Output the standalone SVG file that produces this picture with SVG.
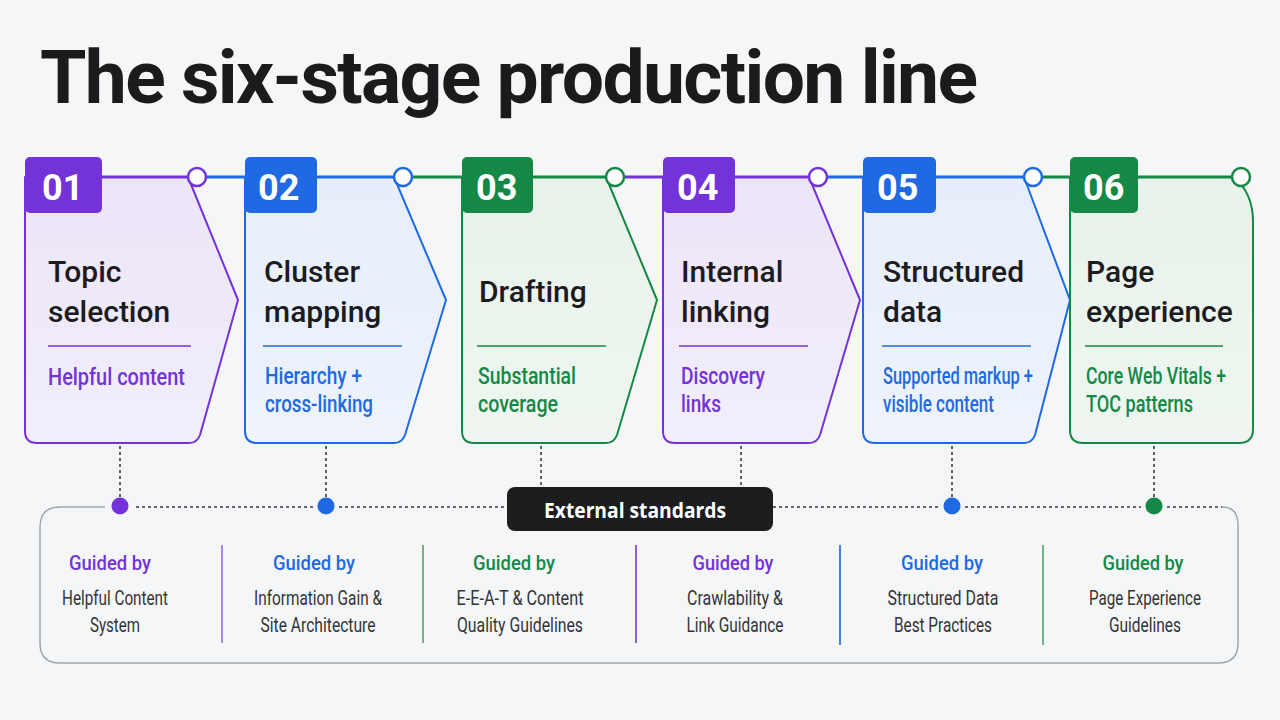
<svg xmlns="http://www.w3.org/2000/svg" width="1280" height="720" viewBox="0 0 1280 720">
  <style>
    .title { font-family: Roboto, "Liberation Sans", sans-serif; font-weight: 700; font-size: 75px; fill: #1b1b1d; }
    .num { font-family: Roboto, "Liberation Sans", sans-serif; font-weight: 700; font-size: 36px; fill: #ffffff; }
    .head { font-family: Roboto, "Liberation Sans", sans-serif; font-weight: 500; font-size: 30px; fill: #1c1c1e; }
    .sub { font-family: Roboto, "Liberation Sans", sans-serif; font-weight: 500; font-size: 23px; }
    .guide { font-family: Roboto, "Liberation Sans", sans-serif; font-weight: 500; font-size: 21px; text-anchor: middle; }
    .desc { font-family: Roboto, "Liberation Sans", sans-serif; font-weight: 400; font-size: 20px; fill: #333437; text-anchor: middle; }
    .purple { fill: #7433d8; }
    .blue { fill: #1f6ae2; }
    .green { fill: #168846; }
    .s-purple { stroke: #7433d8; }
    .s-blue { stroke: #1f6ae2; }
    .s-green { stroke: #168846; }
    .body { stroke-width: 2; stroke-linejoin: round; }
    .rule { stroke-width: 1.5; fill: none; }
    .line { stroke-width: 3; fill: none; }
    .ring { fill: #ffffff; stroke-width: 2.5; }
    .dots { stroke: #3a3b3e; stroke-width: 1.6; stroke-dasharray: 3 3; fill: none; }
    .panel { fill: none; stroke: #a2a6ab; stroke-width: 1.5; }
  </style>
  <defs>
    <linearGradient id="fillPurple" x1="0" y1="0" x2="0" y2="1">
      <stop offset="0" stop-color="#ece5f8"/>
      <stop offset="1" stop-color="#f2eefb"/>
    </linearGradient>
    <linearGradient id="fillBlue" x1="0" y1="0" x2="0" y2="1">
      <stop offset="0" stop-color="#e6eefb"/>
      <stop offset="1" stop-color="#eef3fc"/>
    </linearGradient>
    <linearGradient id="fillGreen" x1="0" y1="0" x2="0" y2="1">
      <stop offset="0" stop-color="#e7f2ea"/>
      <stop offset="1" stop-color="#eff6f1"/>
    </linearGradient>
  </defs>

  <rect width="1280" height="720" fill="#f5f6f8"/>

  <text class="title" x="40" y="103" textLength="938">The six-stage production line</text>

  <!-- timeline segments between stages -->
  <g id="timeline">
    <line class="line s-blue" x1="206" y1="177" x2="250" y2="177"/>
    <line class="line s-green" x1="412" y1="177" x2="466" y2="177"/>
    <line class="line s-purple" x1="624" y1="177" x2="667" y2="177"/>
    <line class="line s-blue" x1="827" y1="177" x2="867" y2="177"/>
    <line class="line s-green" x1="1042" y1="177" x2="1074" y2="177"/>
  </g>

  <!-- stage 01 -->
  <g id="stage-01">
    <path class="body s-purple" fill="url(#fillPurple)" d="M25,177 H188 L238,300 L200,435 Q197,443 189,443 H37 Q25,443 25,431 Z"/>
    <line class="line s-purple" x1="25" y1="177" x2="188" y2="177"/>
    <rect class="purple" x="25" y="157" width="77" height="56" rx="5"/>
    <circle class="ring s-purple" cx="197" cy="177" r="9"/>
    <text class="num" x="42" y="200">01</text>
    <text class="head" x="48" y="282">Topic</text>
    <text class="head" x="48" y="322">selection</text>
    <line class="rule s-purple" x1="48" y1="346" x2="191" y2="346"/>
    <text class="sub purple" x="48" y="385" textLength="137" lengthAdjust="spacingAndGlyphs">Helpful content</text>
  </g>

  <!-- stage 02 -->
  <g id="stage-02">
    <path class="body s-blue" fill="url(#fillBlue)" d="M245,177 H394 L446,300 L405,435 Q402,443 394,443 H257 Q245,443 245,431 Z"/>
    <line class="line s-blue" x1="245" y1="177" x2="394" y2="177"/>
    <rect class="blue" x="245" y="157" width="72" height="56" rx="5"/>
    <circle class="ring s-blue" cx="403" cy="177" r="9"/>
    <text class="num" x="258" y="200">02</text>
    <text class="head" x="264" y="282">Cluster</text>
    <text class="head" x="264" y="322">mapping</text>
    <line class="rule s-blue" x1="263" y1="346" x2="402" y2="346"/>
    <text class="sub blue" x="265" y="384" textLength="97" lengthAdjust="spacingAndGlyphs">Hierarchy +</text>
    <text class="sub blue" x="265" y="412" textLength="108" lengthAdjust="spacingAndGlyphs">cross-linking</text>
  </g>

  <!-- stage 03 -->
  <g id="stage-03">
    <path class="body s-green" fill="url(#fillGreen)" d="M462,177 H606 L657,300 L617,435 Q614,443 606,443 H474 Q462,443 462,431 Z"/>
    <line class="line s-green" x1="462" y1="177" x2="606" y2="177"/>
    <rect class="green" x="462" y="157" width="71" height="56" rx="5"/>
    <circle class="ring s-green" cx="615" cy="177" r="9"/>
    <text class="num" x="476" y="200">03</text>
    <text class="head" x="479" y="302">Drafting</text>
    <line class="rule s-green" x1="477" y1="346" x2="606" y2="346"/>
    <text class="sub green" x="478" y="384" textLength="98" lengthAdjust="spacingAndGlyphs">Substantial</text>
    <text class="sub green" x="478" y="412" textLength="80" lengthAdjust="spacingAndGlyphs">coverage</text>
  </g>

  <!-- stage 04 -->
  <g id="stage-04">
    <path class="body s-purple" fill="url(#fillPurple)" d="M663,177 H809 L860,300 L820,435 Q817,443 809,443 H675 Q663,443 663,431 Z"/>
    <line class="line s-purple" x1="663" y1="177" x2="809" y2="177"/>
    <rect class="purple" x="663" y="157" width="72" height="56" rx="5"/>
    <circle class="ring s-purple" cx="818" cy="177" r="9"/>
    <text class="num" x="677" y="200">04</text>
    <text class="head" x="681" y="282">Internal</text>
    <text class="head" x="681" y="322">linking</text>
    <line class="rule s-purple" x1="679" y1="346" x2="808" y2="346"/>
    <text class="sub purple" x="681" y="384" textLength="84" lengthAdjust="spacingAndGlyphs">Discovery</text>
    <text class="sub purple" x="681" y="412" textLength="40" lengthAdjust="spacingAndGlyphs">links</text>
  </g>

  <!-- stage 05 -->
  <g id="stage-05">
    <path class="body s-blue" fill="url(#fillBlue)" d="M863,177 H1024 L1070,300 L1035,435 Q1032,443 1024,443 H875 Q863,443 863,431 Z"/>
    <line class="line s-blue" x1="863" y1="177" x2="1024" y2="177"/>
    <rect class="blue" x="863" y="157" width="73" height="56" rx="5"/>
    <circle class="ring s-blue" cx="1033" cy="177" r="9"/>
    <text class="num" x="877" y="200">05</text>
    <text class="head" x="883" y="282">Structured</text>
    <text class="head" x="883" y="322">data</text>
    <line class="rule s-blue" x1="882" y1="346" x2="1031" y2="346"/>
    <text class="sub blue" x="883" y="384" textLength="150" lengthAdjust="spacingAndGlyphs">Supported markup +</text>
    <text class="sub blue" x="883" y="412" textLength="111" lengthAdjust="spacingAndGlyphs">visible content</text>
  </g>

  <!-- stage 06 -->
  <g id="stage-06">
    <path class="body s-green" fill="url(#fillGreen)" d="M1070,177 H1233 Q1253,192 1253,222 V429 Q1253,443 1239,443 H1083 Q1070,443 1070,430 Z"/>
    <line class="line s-green" x1="1070" y1="177" x2="1233" y2="177"/>
    <rect class="green" x="1070" y="157" width="68" height="56" rx="5"/>
    <circle class="ring s-green" cx="1241" cy="177" r="9"/>
    <text class="num" x="1083" y="200">06</text>
    <text class="head" x="1086" y="282">Page</text>
    <text class="head" x="1086" y="322">experience</text>
    <line class="rule s-green" x1="1085" y1="346" x2="1223" y2="346"/>
    <text class="sub green" x="1086" y="384" textLength="140" lengthAdjust="spacingAndGlyphs">Core Web Vitals +</text>
    <text class="sub green" x="1086" y="412" textLength="107" lengthAdjust="spacingAndGlyphs">TOC patterns</text>
  </g>

  <!-- links from stages down to the standards panel -->
  <g id="connectors">
    <line class="dots" x1="120" y1="446" x2="120" y2="497"/>
    <line class="dots" x1="326" y1="446" x2="326" y2="497"/>
    <line class="dots" x1="541" y1="446" x2="541" y2="486"/>
    <line class="dots" x1="741" y1="446" x2="741" y2="486"/>
    <line class="dots" x1="952" y1="446" x2="952" y2="497"/>
    <line class="dots" x1="1154" y1="446" x2="1154" y2="497"/>
    <line class="dots" x1="136" y1="507" x2="313" y2="507"/>
    <line class="dots" x1="339" y1="507" x2="507" y2="507"/>
    <line class="dots" x1="773" y1="507" x2="939" y2="507"/>
    <line class="dots" x1="965" y1="507" x2="1141" y2="507"/>
    <line class="dots" x1="1167" y1="507" x2="1222" y2="507"/>
  </g>

  <!-- standards panel -->
  <g id="standards">
    <path class="panel" d="M105,507 H60 Q40,507 40,527 V643 Q40,663 60,663 H1218 Q1238,663 1238,643 V525 Q1238,507 1222,507"/>
    <circle class="purple" cx="120" cy="506" r="8.5"/>
    <circle class="blue" cx="326" cy="506" r="8.5"/>
    <circle class="blue" cx="952" cy="506" r="8.5"/>
    <circle class="green" cx="1154" cy="506" r="8.5"/>

    <rect x="507" y="487" width="266" height="44" rx="8" fill="#1c1d1f"/>
    <text x="635" y="518" text-anchor="middle" font-family="'Open Sans', 'Liberation Sans', sans-serif" font-weight="700" font-size="22" fill="#ffffff" textLength="182" lengthAdjust="spacingAndGlyphs">External standards</text>

    <line x1="222" y1="545" x2="222" y2="643" stroke="#a688e2" stroke-width="2"/>
    <line x1="423" y1="545" x2="423" y2="643" stroke="#6fb58c" stroke-width="2"/>
    <line x1="636" y1="545" x2="636" y2="643" stroke="#8b62dd" stroke-width="2"/>
    <line x1="840" y1="545" x2="840" y2="645" stroke="#3f7fe6" stroke-width="2"/>
    <line x1="1043" y1="545" x2="1043" y2="645" stroke="#6fb58c" stroke-width="2"/>

    <text class="guide purple" x="110" y="570" textLength="82" lengthAdjust="spacingAndGlyphs">Guided by</text>
    <text class="desc" x="115" y="605" textLength="106" lengthAdjust="spacingAndGlyphs">Helpful Content</text>
    <text class="desc" x="115" y="632" textLength="50" lengthAdjust="spacingAndGlyphs">System</text>

    <text class="guide blue" x="314" y="570" textLength="82" lengthAdjust="spacingAndGlyphs">Guided by</text>
    <text class="desc" x="318" y="605" textLength="128" lengthAdjust="spacingAndGlyphs">Information Gain &amp;</text>
    <text class="desc" x="318" y="632" textLength="115" lengthAdjust="spacingAndGlyphs">Site Architecture</text>

    <text class="guide green" x="514" y="570" textLength="82" lengthAdjust="spacingAndGlyphs">Guided by</text>
    <text class="desc" x="520" y="605" textLength="127" lengthAdjust="spacingAndGlyphs">E-E-A-T &amp; Content</text>
    <text class="desc" x="520" y="632" textLength="126" lengthAdjust="spacingAndGlyphs">Quality Guidelines</text>

    <text class="guide purple" x="733" y="570" textLength="81" lengthAdjust="spacingAndGlyphs">Guided by</text>
    <text class="desc" x="735" y="605" textLength="96" lengthAdjust="spacingAndGlyphs">Crawlability &amp;</text>
    <text class="desc" x="735" y="632" textLength="97" lengthAdjust="spacingAndGlyphs">Link Guidance</text>

    <text class="guide blue" x="942" y="570" textLength="82" lengthAdjust="spacingAndGlyphs">Guided by</text>
    <text class="desc" x="943" y="605" textLength="111" lengthAdjust="spacingAndGlyphs">Structured Data</text>
    <text class="desc" x="943" y="632" textLength="98" lengthAdjust="spacingAndGlyphs">Best Practices</text>

    <text class="guide green" x="1143" y="570" textLength="81" lengthAdjust="spacingAndGlyphs">Guided by</text>
    <text class="desc" x="1145" y="605" textLength="112" lengthAdjust="spacingAndGlyphs">Page Experience</text>
    <text class="desc" x="1145" y="632" textLength="72" lengthAdjust="spacingAndGlyphs">Guidelines</text>
  </g>
</svg>
